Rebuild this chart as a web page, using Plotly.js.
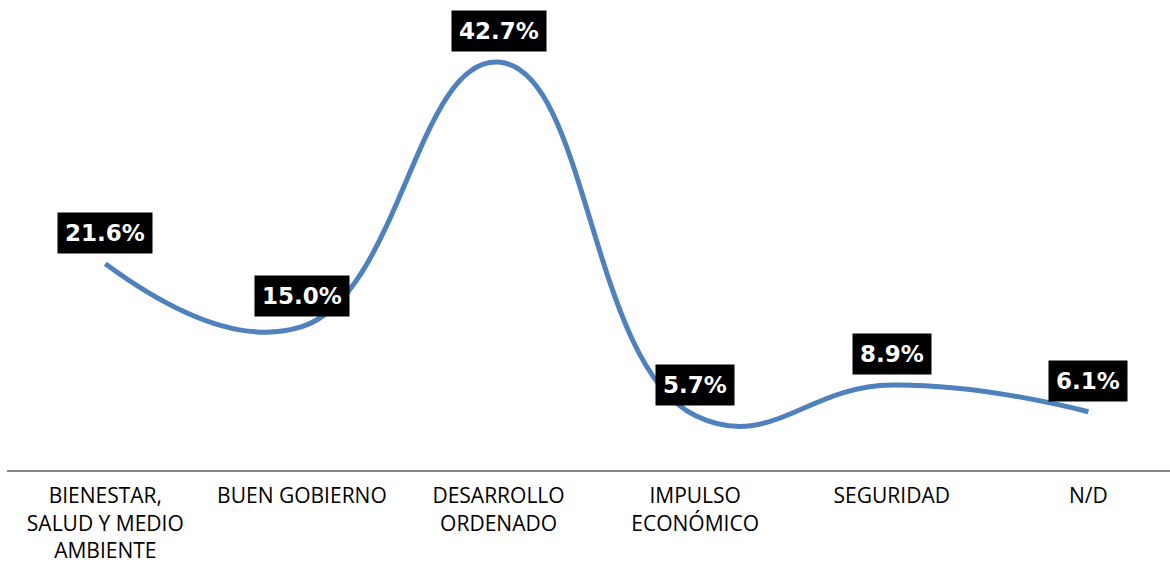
<!DOCTYPE html>
<html>
<head>
<meta charset="utf-8">
<script src="https://cdn.plot.ly/plotly-3.0.1.min.js"></script>
<style>html,body{margin:0;padding:0;background:#fff;}#chart{width:1170px;height:564px;}</style>
</head>
<body>
<div id="chart"></div>
<script>
const categories = ["BIENESTAR,<br>SALUD Y MEDIO<br>AMBIENTE", "BUEN GOBIERNO", "DESARROLLO<br>ORDENADO", "IMPULSO<br>ECONÓMICO", "SEGURIDAD", "N/D"];
const values = [21.6, 15.0, 42.7, 5.7, 8.9, 6.1];
const labels = ["21.6%", "15.0%", "42.7%", "5.7%", "8.9%", "6.1%"];

const trace = {
  x: categories,
  y: values,
  type: 'scatter',
  mode: 'lines',
  line: {shape: 'spline', smoothing: 1.3, color: '#4F81BD', width: 5},
  hoverinfo: 'skip'
};

const annotations = categories.map((c, i) => ({
  x: c, y: values[i], xref: 'x', yref: 'y',
  text: '<b>' + labels[i] + '</b>',
  showarrow: false,
  yanchor: 'middle', xanchor: 'center',
  yshift: 31,
  bgcolor: '#000000',
  borderpad: 7,
  font: {family: 'DejaVu Sans', size: 23, color: '#ffffff'}
}));

const layout = {
  width: 1170, height: 564,
  margin: {l: 7, r: 0, t: 0, b: 94},
  paper_bgcolor: '#ffffff', plot_bgcolor: '#ffffff',
  showlegend: false,
  xaxis: {
    type: 'category',
    range: [-0.5, 5.415],
    showline: true, linecolor: '#868686', linewidth: 2,
    showgrid: false, zeroline: false, ticks: '',
    tickfont: {family: 'Open Sans', size: 21, color: '#000000'},
    ticklabelstandoff: 6,
    tickangle: 0
  },
  yaxis: {
    range: [0, 49.2],
    visible: false, showgrid: false, zeroline: false
  },
  annotations: annotations
};

Plotly.newPlot('chart', [trace], layout, {displayModeBar: false, staticPlot: true});
</script>
</body>
</html>
